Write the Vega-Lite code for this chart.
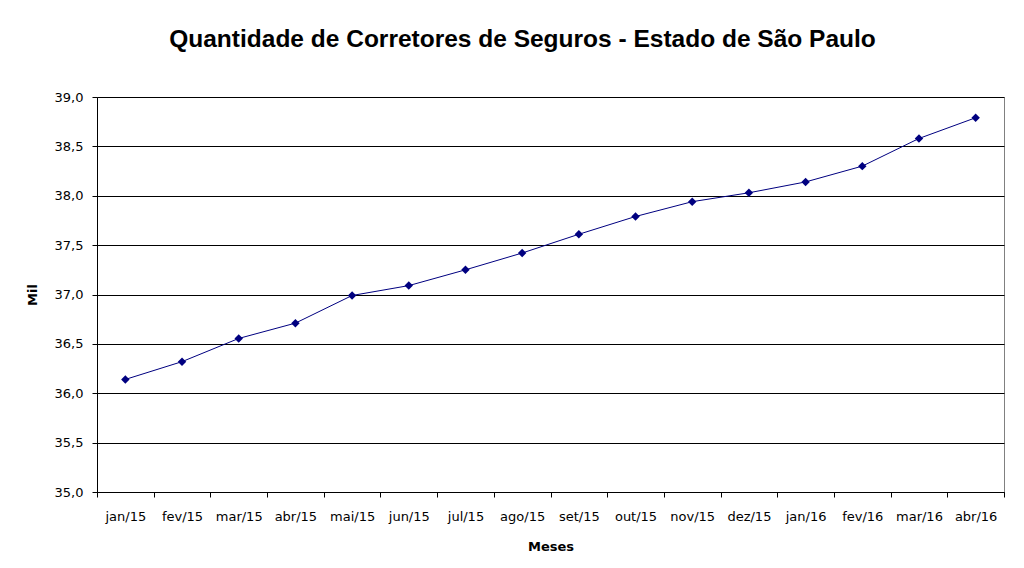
{
  "$schema": "https://vega.github.io/schema/vega-lite/v6.json",
  "width": 907,
  "height": 395,
  "autosize": {"type": "none"},
  "padding": {"left": 97, "top": 97, "right": 20, "bottom": 76},
  "background": "white",
  "title": {
    "text": "Quantidade de Corretores de Seguros - Estado de São Paulo",
    "font": "Liberation Sans",
    "fontSize": 24.5,
    "fontWeight": "bold",
    "color": "black",
    "anchor": "middle",
    "dx": -28,
    "offset": 39
  },
  "config": {
    "view": {"stroke": "#808080", "strokeWidth": 1},
    "axis": {
      "labelFont": "DejaVu Sans",
      "labelFontSize": 13,
      "labelColor": "black",
      "titleFont": "DejaVu Sans",
      "titleFontSize": 13,
      "titleFontWeight": "bold",
      "titleColor": "black",
      "domainColor": "black",
      "tickColor": "black",
      "tickSize": 5
    }
  },
  "data": {
    "values": [
      {"mes": "jan/15", "mil": 36.14},
      {"mes": "fev/15", "mil": 36.32},
      {"mes": "mar/15", "mil": 36.555},
      {"mes": "abr/15", "mil": 36.71},
      {"mes": "mai/15", "mil": 36.99},
      {"mes": "jun/15", "mil": 37.09},
      {"mes": "jul/15", "mil": 37.25},
      {"mes": "ago/15", "mil": 37.42},
      {"mes": "set/15", "mil": 37.61},
      {"mes": "out/15", "mil": 37.79},
      {"mes": "nov/15", "mil": 37.94},
      {"mes": "dez/15", "mil": 38.03},
      {"mes": "jan/16", "mil": 38.14},
      {"mes": "fev/16", "mil": 38.3},
      {"mes": "mar/16", "mil": 38.58},
      {"mes": "abr/16", "mil": 38.79}
    ]
  },
  "encoding": {
    "x": {
      "field": "mes",
      "type": "ordinal",
      "sort": null,
      "scale": {"type": "band", "paddingInner": 0, "paddingOuter": 0},
      "axis": {
        "title": "Meses",
        "labelAngle": 0,
        "tickBand": "extent",
        "labelPadding": 13,
        "titlePadding": 17,
        "grid": false
      }
    },
    "y": {
      "field": "mil",
      "type": "quantitative",
      "scale": {"domain": [35, 39], "nice": false, "zero": false},
      "axis": {
        "title": "Mil",
        "values": [35, 35.5, 36, 36.5, 37, 37.5, 38, 38.5, 39],
        "labelExpr": "replace(format(datum.value, '.1f'), '.', ',')",
        "grid": true,
        "gridColor": "black",
        "gridOpacity": 1,
        "gridWidth": 1,
        "labelPadding": 9,
        "titlePadding": 15
      }
    }
  },
  "layer": [
    {"mark": {"type": "line", "color": "#000080", "strokeWidth": 1}},
    {"mark": {"type": "point", "shape": "diamond", "filled": true, "color": "#000080", "size": 72, "opacity": 1}}
  ]
}
